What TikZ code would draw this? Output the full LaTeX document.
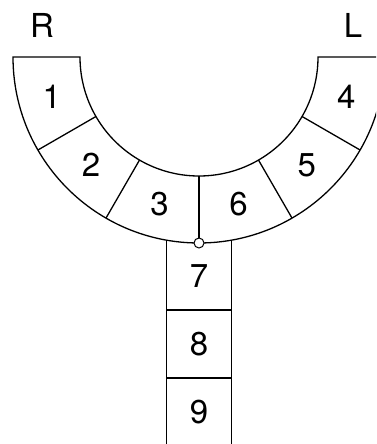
\documentclass[tikz,border=0pt]{standalone}
\usepackage{fontspec}
\setmainfont{TeX Gyre Heros}
\usetikzlibrary{calc}

\begin{document}
\begin{tikzpicture}[x=1pt,y=1pt,line width=1.3pt,
  lbl/.style={font=\fontsize{33}{36}\selectfont}]
\useasboundingbox (-199,-387) rectangle (177,57);
\clip (-199,-387) rectangle (177,57);
% curved track
\draw (-186,0) -- (-119,0) arc (180:360:119) -- (186,0) arc (0:-180:186) -- cycle;
\foreach \a in {210,240,...,330}
  \draw (\a:119) -- (\a:186);
% straight part
\draw (-32.5,-183.1) -- (-32.5,-400);
\draw (32.5,-183.1) -- (32.5,-400);
\draw (-32.5,-253) -- (32.5,-253);
\draw (-32.5,-321) -- (32.5,-321);
\draw[fill=white,line width=1pt] (0,-186) circle (5);
% numbers
\foreach \n/\a in {1/195,2/225,3/255,4/345,5/315,6/285}
  \node[lbl] (s\n) at (\a:152.5) {\n};
\node[lbl] (s7) at (0,-219) {7};
\node[lbl] (s8) at (0,-287) {8};
\node[lbl] (s9) at (0,-355) {9};
\node[lbl] (r) at (-157,32) {R};
\node[lbl] (l) at (154,32) {L};
\end{tikzpicture}
\end{document}
